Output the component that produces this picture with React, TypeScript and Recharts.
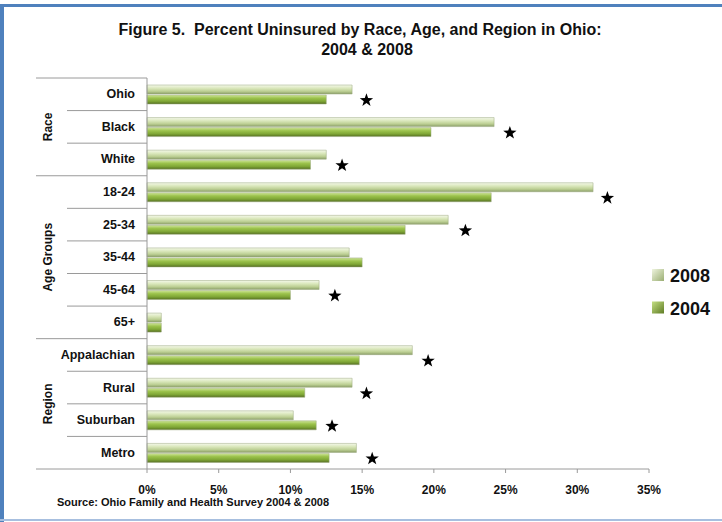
import {
    ComposedChart,
    Bar,
    Scatter,
    XAxis,
    YAxis,
} from 'recharts';

// categories, top to bottom
const CATEGORIES = ['Ohio', 'Black', 'White', '18-24', '25-34', '35-44', '45-64', '65+', 'Appalachian', 'Rural', 'Suburban', 'Metro'];
const GROUP_NAMES = ['Race', 'Age Groups', 'Region'];
const GROUP_SIZES = [3, 5, 4];

// percent uninsured
const UNINSURED_2008 = [14.3, 24.2, 12.5, 31.1, 21.0, 14.1, 12.0, 1.0, 18.5, 14.3, 10.2, 14.6];
const UNINSURED_2004 = [12.5, 19.8, 11.4, 24.0, 18.0, 15.0, 10.0, 1.0, 14.8, 11.0, 11.8, 12.7];
// star markers (significant change), null = no star
const STARS = [15.3, 25.3, 13.6, 32.1, 22.2, null, 13.1, null, 19.6, 15.3, 12.9, 15.7];

const X_TICKS = [0, 5, 10, 15, 20, 25, 30, 35];
const SERIES = [
    { key: 'v2008', name: '2008', fill: 'url(#grad2008)', swatch: 'url(#sw2008)' },
    { key: 'v2004', name: '2004', fill: 'url(#grad2004)', swatch: 'url(#sw2004)' },
];

const W = 722;
const H = 522;
const MARGIN = { top: 78, right: 73, bottom: 23, left: 37 };
const Y_AXIS_W = 110;
const X_AXIS_H = 30;
const AXIS_X = MARGIN.left + Y_AXIS_W;
const BAND = (H - MARGIN.top - MARGIN.bottom - X_AXIS_H) / CATEGORIES.length;

const FONT = "'Liberation Sans Narrow', 'Arial Narrow', 'Liberation Sans', Arial, sans-serif";
const LINE = '#9a9a9a';

const data = CATEGORIES.map((name, i) => ({
    name,
    v2008: UNINSURED_2008[i],
    v2004: UNINSURED_2004[i],
    star: STARS[i],
}));

// start index of each group
const groupStarts = GROUP_SIZES.map((_, g) => GROUP_SIZES.slice(0, g).reduce((a, b) => a + b, 0));

function CategoryTick(props: any) {
    const { y, index, payload } = props;
    const g = groupStarts.indexOf(index);
    const lastOfGroup = groupStarts.includes(index + 1) || index === CATEGORIES.length - 1;
    return (
        <g>
            {index === 0 && (
                <line x1={36} x2={AXIS_X} y1={y - BAND / 2} y2={y - BAND / 2} stroke={LINE} />
            )}
            <line x1={lastOfGroup ? 36 : 67} x2={AXIS_X} y1={y + BAND / 2} y2={y + BAND / 2} stroke={LINE} />
            <text x={AXIS_X - 12} y={y} dy={4} textAnchor="end" fontFamily={FONT} fontWeight="bold" fontSize={12.5} fill="#111">
                {payload.value}
            </text>
            {g >= 0 && (
                <text
                    x={52}
                    y={y + ((GROUP_SIZES[g] - 1) / 2) * BAND}
                    textAnchor="middle"
                    fontFamily={FONT}
                    fontWeight="bold"
                    fontSize={12}
                    fill="#111"
                    transform={`rotate(-90 52 ${y + ((GROUP_SIZES[g] - 1) / 2) * BAND})`}
                >
                    {GROUP_NAMES[g]}
                </text>
            )}
        </g>
    );
}

function StarShape(props: any) {
    const { cx, cy, payload } = props;
    if (payload?.star == null || cx == null || cy == null) return <g />;
    const r = 7;
    const ri = 2.8;
    const yc = cy + 6;
    const pts: string[] = [];
    for (let k = 0; k < 10; k++) {
        const a = -Math.PI / 2 + (k * Math.PI) / 5;
        const rr = k % 2 === 0 ? r : ri;
        pts.push(`${cx + rr * Math.cos(a)},${yc + rr * Math.sin(a)}`);
    }
    return <polygon points={pts.join(' ')} fill="#000" />;
}

export default function App() {
    return (
        <div style={{ position: 'absolute', left: 0, top: 0, width: W, height: H, background: '#fff', overflow: 'hidden' }}>
            {/* frame */}
            <div style={{ position: 'absolute', left: 0, top: 4, width: 4, height: H - 4, background: '#4f81bd' }} />
            <div style={{ position: 'absolute', left: 0, top: 4, width: W, height: 3, background: '#4f81bd' }} />
            <div style={{ position: 'absolute', left: 0, top: 519, width: W, height: 2, background: '#a7bfdf' }} />

            <ComposedChart
                width={W}
                height={H}
                data={data}
                layout="vertical"
                margin={MARGIN}
                barGap={1}
                style={{ position: 'absolute', left: 0, top: 0 }}
            >
                <defs>
                    <linearGradient id="grad2008" x1="0" y1="0" x2="0" y2="1">
                        <stop offset="0%" stopColor="#f4f8ea" />
                        <stop offset="35%" stopColor="#dbe8bd" />
                        <stop offset="70%" stopColor="#bccf93" />
                        <stop offset="100%" stopColor="#8c9f69" />
                    </linearGradient>
                    <linearGradient id="grad2004" x1="0" y1="0" x2="0" y2="1">
                        <stop offset="0%" stopColor="#cfe59a" />
                        <stop offset="35%" stopColor="#9cc34c" />
                        <stop offset="70%" stopColor="#7fa636" />
                        <stop offset="100%" stopColor="#566f22" />
                    </linearGradient>
                </defs>
                <XAxis
                    type="number"
                    domain={[0, 35]}
                    ticks={X_TICKS}
                    interval={0}
                    height={X_AXIS_H}
                    tickFormatter={(v: number) => `${v}%`}
                    axisLine={{ stroke: LINE }}
                    tickLine={{ stroke: LINE }}
                    tickSize={4}
                    tickMargin={12}
                    tick={{ fill: '#111', fontSize: 12, fontWeight: 'bold', fontFamily: FONT }}
                />
                <YAxis
                    type="category"
                    dataKey="name"
                    width={Y_AXIS_W}
                    interval={0}
                    axisLine={{ stroke: LINE }}
                    tickLine={false}
                    tick={<CategoryTick />}
                />
                {SERIES.map(s => (
                    <Bar
                        key={s.key}
                        dataKey={s.key}
                        name={s.name}
                        fill={s.fill}
                        stroke="#9aa87f"
                        strokeWidth={0.5}
                        barSize={9}
                        isAnimationActive={false}
                    />
                ))}
                <Scatter dataKey="star" shape={<StarShape />} legendType="none" isAnimationActive={false} />
            </ComposedChart>

            {/* title, legend, source */}
            <svg width={W} height={H} style={{ position: 'absolute', left: 0, top: 0, pointerEvents: 'none' }}>
                <defs>
                    <linearGradient id="sw2008" x1="0" y1="0" x2="1" y2="1">
                        <stop offset="0%" stopColor="#eef4de" />
                        <stop offset="100%" stopColor="#9aae73" />
                    </linearGradient>
                    <linearGradient id="sw2004" x1="0" y1="0" x2="1" y2="1">
                        <stop offset="0%" stopColor="#c4df83" />
                        <stop offset="100%" stopColor="#5f7c25" />
                    </linearGradient>
                </defs>
                <text x={360} y={35} textAnchor="middle" fontFamily={FONT} fontWeight="bold" fontSize={16} fill="#111" style={{ whiteSpace: 'pre' }}>
                    {'Figure 5.\u00a0 Percent Uninsured by Race, Age, and Region in Ohio:'}
                </text>
                <text x={367} y={55} textAnchor="middle" fontFamily={FONT} fontWeight="bold" fontSize={16} fill="#111">
                    2004 &amp; 2008
                </text>
                {SERIES.map((s, i) => (
                    <g key={s.key}>
                        <rect x={652} y={269 + i * 32.5} width={12} height={12} fill={s.swatch} />
                        <text x={670} y={282 + i * 32.5} fontFamily="'Liberation Sans', Arial, sans-serif" fontWeight="bold" fontSize={18} fill="#111">
                            {s.name}
                        </text>
                    </g>
                ))}
                <text x={57} y={506} fontFamily={FONT} fontWeight="bold" fontSize={11} fill="#111">
                    Source: Ohio Family and Health Survey 2004 &amp; 2008
                </text>
            </svg>
        </div>
    );
}
